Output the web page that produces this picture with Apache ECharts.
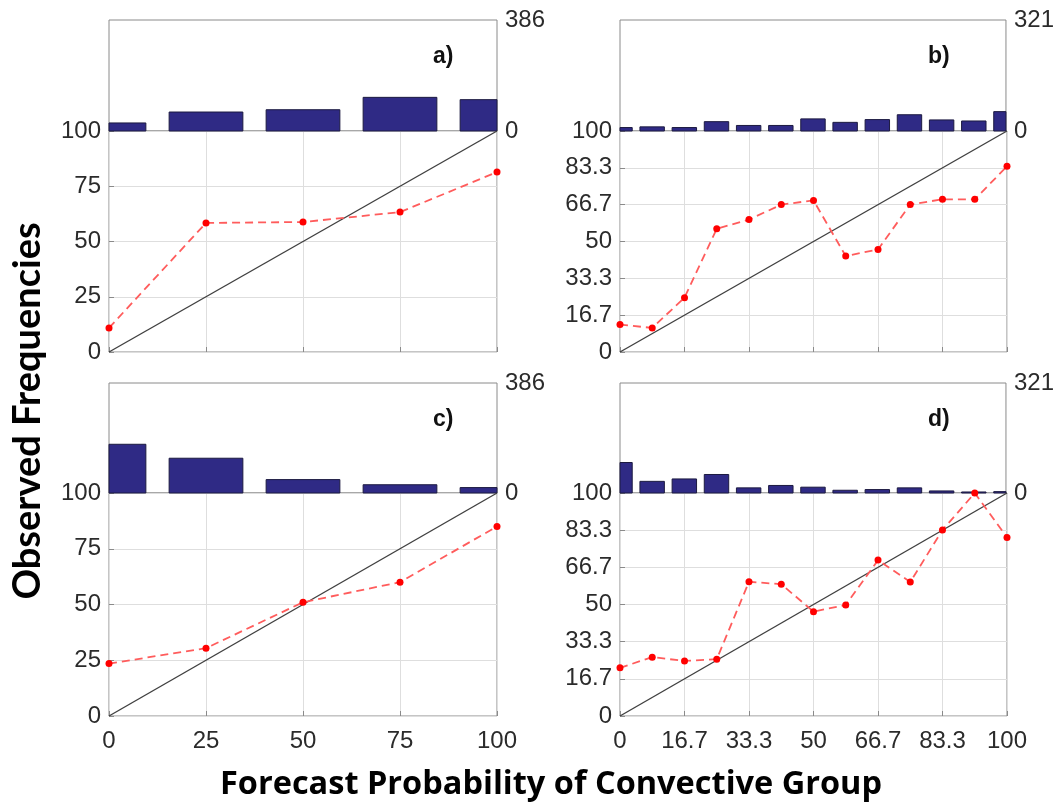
<!DOCTYPE html>
<html><head><meta charset="utf-8">
<script src="https://cdn.jsdelivr.net/npm/echarts@6/dist/echarts.min.js"></script>
<style>html,body{margin:0;padding:0;background:#fff}#c{width:1057px;height:802px}</style>
</head><body><div id="c"></div>
<script>
// ---- data ----
const bins5 = [0, 25, 50, 75, 100];
const bins13 = [0, 8.33, 16.67, 25, 33.33, 41.67, 50, 58.33, 66.67, 75, 83.33, 91.67, 100];
const ticks5 = [0, 25, 50, 75, 100];
const ticks7 = [0, 16.7, 33.3, 50, 66.7, 83.3, 100];
const obsA = [10.9, 58.4, 58.8, 63.3, 81.4];
const countA = [28, 66, 74, 117, 109];
const obsB = [12.4, 10.9, 24.6, 55.8, 59.9, 66.7, 68.6, 43.4, 46.4, 66.7, 69.1, 69.1, 84.0];
const countB = [10, 12, 10, 27, 16, 16, 35, 25, 33, 47, 32, 29, 56];
const obsC = [23.5, 30.4, 51.0, 60.0, 85.0];
const countC = [171, 122, 47, 29, 19];
const obsD = [21.6, 26.4, 24.7, 25.5, 60.2, 59.1, 46.8, 49.8, 69.9, 60.1, 83.4, 100, 80.1];
const countD = [89, 34, 41, 54, 15, 22, 17, 8, 10, 15, 6, 3, 4];
const countMax5 = 386;
const countMax13 = 321;
const diagonal = [[0, 0], [100, 100]];
const panelLabels = ['a)', 'b)', 'c)', 'd)'];
const xTitle = 'Forecast Probability of Convective Group';
const yTitle = 'Observed Frequencies';

// ---- layout ----
const panels = [
  {bins: bins5, obs: obsA, count: countA, cmax: countMax5, ticks: ticks5, left: 109, width: 388, top: 20, hh: 111, rh: 221, xlab: false, lab: 324},
  {bins: bins13, obs: obsB, count: countB, cmax: countMax13, ticks: ticks7, left: 620, width: 387, top: 20, hh: 111, rh: 221, xlab: false, lab: 308},
  {bins: bins5, obs: obsC, count: countC, cmax: countMax5, ticks: ticks5, left: 109, width: 388, top: 383, hh: 110, rh: 223, xlab: true, lab: 324},
  {bins: bins13, obs: obsD, count: countD, cmax: countMax13, ticks: ticks7, left: 620, width: 387, top: 383, hh: 110, rh: 223, xlab: true, lab: 308}
];

const FONT = 'Liberation Sans';
const labelColor = '#2b2b2b';
const boxColor = '#8a8a8a';
const gridColor = '#dedede';
const barFill = '#2f2a85';
const barStroke = '#1c1a40';
const fmt = v => String(Math.round(v * 10) / 10);

const grid = [], xAxis = [], yAxis = [], series = [], graphic = [];
panels.forEach((p, k) => {
  const gh = 2 * k, gr = 2 * k + 1;
  const iv = 100 / (p.ticks.length - 1);
  const binStep = p.bins[1] - p.bins[0];
  grid.push({left: p.left, width: p.width, top: p.top, height: p.hh, show: true, borderColor: boxColor, borderWidth: 1, backgroundColor: '#fff'});
  grid.push({left: p.left, width: p.width, top: p.top + p.hh, height: p.rh, show: true, borderColor: boxColor, borderWidth: 1, backgroundColor: '#fff'});
  xAxis.push({gridIndex: gh, type: 'value', min: 0, max: 100, show: false});
  xAxis.push({gridIndex: gr, type: 'value', min: 0, max: 100, interval: iv,
    axisLine: {show: false},
    axisTick: {show: true, inside: true, length: 5, lineStyle: {color: boxColor}},
    axisLabel: {show: p.xlab, formatter: fmt, color: labelColor, fontFamily: FONT, fontSize: 24, margin: 13},
    splitLine: {show: true, lineStyle: {color: gridColor, width: 1}}});
  yAxis.push({gridIndex: gh, type: 'value', position: 'right', min: 0, max: p.cmax, interval: p.cmax,
    axisLine: {show: false}, axisTick: {show: false}, splitLine: {show: false},
    axisLabel: {color: labelColor, fontFamily: FONT, fontSize: 24, margin: 8}});
  yAxis.push({gridIndex: gr, type: 'value', min: 0, max: 100, interval: iv,
    axisLine: {show: false},
    axisTick: {show: true, inside: true, length: 5, lineStyle: {color: boxColor}},
    axisLabel: {formatter: fmt, color: labelColor, fontFamily: FONT, fontSize: 24, margin: 8},
    splitLine: {show: true, lineStyle: {color: gridColor, width: 1}}});
  series.push({type: 'custom', xAxisIndex: gh, yAxisIndex: gh, silent: true,
    data: p.bins.map((b, i) => [b, p.count[i]]),
    renderItem: (params, api) => {
      const x = api.value(0), y = api.value(1);
      const w = api.size([binStep, 0])[0] * 0.76;
      const top = api.coord([x, y]);
      const base = api.coord([x, 0]);
      const cs = params.coordSys;
      const rect = echarts.graphic.clipRectByRect(
        {x: top[0] - w / 2, y: top[1], width: w, height: base[1] - top[1]},
        {x: cs.x, y: cs.y, width: cs.width, height: cs.height});
      return rect && {type: 'rect', shape: rect, style: {fill: barFill, stroke: barStroke, lineWidth: 1}};
    }});
  series.push({type: 'line', xAxisIndex: gr, yAxisIndex: gr, data: diagonal, symbol: 'none',
    lineStyle: {color: '#404040', width: 1.4}, silent: true, z: 3});
  series.push({type: 'line', xAxisIndex: gr, yAxisIndex: gr, clip: false,
    data: p.bins.map((b, i) => [b, p.obs[i]]),
    symbol: 'circle', symbolSize: 7, itemStyle: {color: '#ff0000'},
    lineStyle: {color: '#ff5c5c', width: 1.8, type: [8, 5]}, silent: true, z: 4});
  graphic.push({type: 'text', left: p.left + p.lab, top: p.top + 25,
    style: {text: panelLabels[k], font: 'bold 23px "Liberation Sans"', fill: '#111'}});
});

graphic.push({type: 'text', x: 28, y: 411, rotation: Math.PI / 2,
  style: {text: yTitle, font: 'bold 38px Lato', fill: '#000', align: 'center', verticalAlign: 'middle'}});
graphic.push({type: 'text', x: 551, y: 785,
  style: {text: xTitle, font: 'bold 32.5px "Open Sans"', fill: '#000', align: 'center', verticalAlign: 'middle'}});

const chart = echarts.init(document.getElementById('c'), null, {renderer: 'canvas'});
chart.setOption({animation: false, backgroundColor: '#fff', grid, xAxis, yAxis, series, graphic});
</script></body></html>
